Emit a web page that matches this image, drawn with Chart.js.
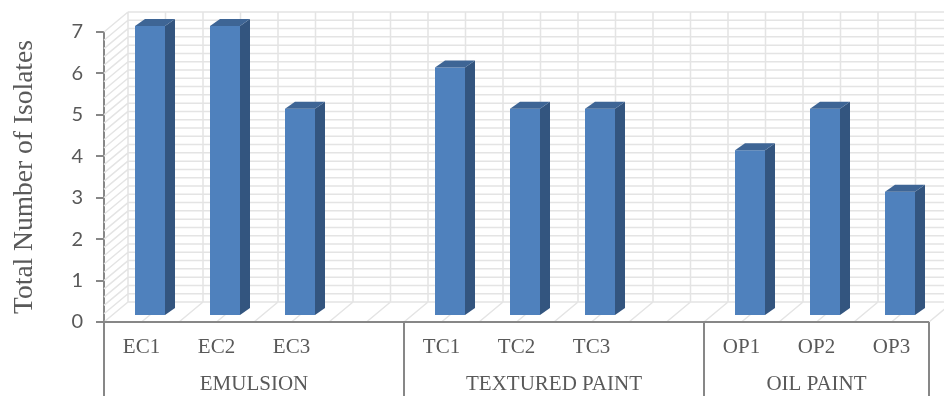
<!DOCTYPE html>
<html>
<head>
<meta charset="utf-8">
<script src="https://cdn.jsdelivr.net/npm/chart.js@4/dist/chart.umd.min.js"></script>
<style>
  html, body { margin: 0; padding: 0; background: #ffffff; }
  #wrap { width: 944px; height: 396px; position: relative; }
</style>
</head>
<body>
<div id="wrap"><canvas id="chart"></canvas></div>
<script>
// Samples (blank slots separate the three paint groups)
const categories = ['EC1', 'EC2', 'EC3', '', 'TC1', 'TC2', 'TC3', '', 'OP1', 'OP2', 'OP3'];
const isolateCounts = [7, 7, 5, null, 6, 5, 5, null, 4, 5, 3];

// Paint groups: label and the first/last category index each one covers
const groupLabels = ['EMULSION', 'TEXTURED PAINT', 'OIL PAINT'];
const groupStarts = [0, 4, 8];
const groupEnds = [3, 7, 10];

// Value axis
const yMin = 0;
const yMax = 7;
const yStep = 1;
const yMinorStep = 0.2;

const AXIS_GREY = '#878787';
const TEXT_GREY = '#595959';
const WALL_LINE = '#e4e4e4';
const SERIF = '"Liberation Serif", "Times New Roman", serif';

// Pseudo-3D geometry (pixels)
const WALL_DEPTH = { dx: 24, dy: -20 };
const BAR_SHIFT = { dx: 8.5, dy: -6 };
const BAR_DEPTH = { dx: 10, dy: -7 };

const box3d = {
  id: 'box3d',
  beforeDatasetsDraw(chart) {
    const { ctx, chartArea: a, scales: { x, y } } = chart;
    const L = a.left, R = a.right, T = a.top, B = a.bottom;
    const dx = WALL_DEPTH.dx, dy = WALL_DEPTH.dy;
    const half = (x.getPixelForValue(1) - x.getPixelForValue(0)) / 2;
    ctx.save();
    ctx.strokeStyle = WALL_LINE;
    ctx.lineWidth = 1.5;
    ctx.beginPath();
    // back wall: horizontal minor lines
    for (let v = yMin; v <= yMax + 1e-9; v += yMinorStep) {
      const py = y.getPixelForValue(v) + dy;
      ctx.moveTo(L + dx, py); ctx.lineTo(R + dx, py);
      // side wall hatch
      ctx.moveTo(L, y.getPixelForValue(v)); ctx.lineTo(L + dx, py);
    }
    // back wall verticals + floor diagonals every half category
    for (let px = L; px <= R + 0.5; px += half) {
      ctx.moveTo(px + dx, T + dy); ctx.lineTo(px + dx, B + dy);
      ctx.moveTo(px, B); ctx.lineTo(px + dx, B + dy);
    }
    ctx.moveTo(L, T); ctx.lineTo(L + dx, T + dy);
    ctx.stroke();
    ctx.restore();

    // bars sit in the middle of the box depth
    ctx.save();
    ctx.translate(BAR_SHIFT.dx, BAR_SHIFT.dy);
  },
  afterDatasetsDraw(chart) {
    const { ctx } = chart;
    const meta = chart.getDatasetMeta(0);
    meta.data.forEach((bar, i) => {
      if (isolateCounts[i] === null) return;
      const { x, y, base, width } = bar.getProps(['x', 'y', 'base', 'width'], true);
      const l = x - width / 2, r = x + width / 2;
      const ddx = BAR_DEPTH.dx, ddy = BAR_DEPTH.dy;
      // side face
      ctx.fillStyle = '#33557f';
      ctx.beginPath();
      ctx.moveTo(r, y); ctx.lineTo(r + ddx, y + ddy);
      ctx.lineTo(r + ddx, base + ddy); ctx.lineTo(r, base);
      ctx.closePath(); ctx.fill();
      // top face
      ctx.fillStyle = '#3e6595';
      ctx.beginPath();
      ctx.moveTo(l, y); ctx.lineTo(l + ddx, y + ddy);
      ctx.lineTo(r + ddx, y + ddy); ctx.lineTo(r, y);
      ctx.closePath(); ctx.fill();
    });
    ctx.restore();
  },
  afterDraw(chart) {
    const { ctx, chartArea: a, scales: { x } } = chart;
    const H = chart.height;
    const half = (x.getPixelForValue(1) - x.getPixelForValue(0)) / 2;
    ctx.save();
    ctx.strokeStyle = AXIS_GREY;
    ctx.lineWidth = 2;
    ctx.beginPath();
    ctx.moveTo(a.left - 8, a.bottom); ctx.lineTo(a.right, a.bottom);
    const edges = [];
    groupStarts.forEach((s) => edges.push(x.getPixelForValue(s) - half));
    edges.push(x.getPixelForValue(groupEnds[groupEnds.length - 1]) + half);
    edges.forEach((ex) => { ctx.moveTo(ex, a.bottom); ctx.lineTo(ex, H); });
    ctx.stroke();

    // group captions
    ctx.fillStyle = TEXT_GREY;
    ctx.font = '21px ' + SERIF;
    ctx.textAlign = 'center';
    ctx.textBaseline = 'middle';
    groupLabels.forEach((g, i) => {
      const cx = (x.getPixelForValue(groupStarts[i]) + x.getPixelForValue(groupEnds[i])) / 2;
      ctx.fillText(g, cx, 384);
    });
    ctx.restore();
  }
};

new Chart(document.getElementById('chart'), {
  type: 'bar',
  data: {
    labels: categories,
    datasets: [{
      label: 'Total Number of Isolates',
      data: isolateCounts,
      backgroundColor: '#4f81bd',
      borderWidth: 0,
      categoryPercentage: 0.4,
      barPercentage: 1,
      clip: false
    }]
  },
  options: {
    responsive: true,
    maintainAspectRatio: false,
    animation: false,
    events: [],
    layout: { padding: { left: 0, right: 15, top: 32, bottom: 0 } },
    plugins: { legend: { display: false }, tooltip: { enabled: false } },
    scales: {
      x: {
        type: 'category',
        offset: true,
        grid: { display: false, drawTicks: false },
        border: { display: false },
        ticks: {
          color: TEXT_GREY,
          font: { family: SERIF, size: 21 },
          padding: 13,
          maxRotation: 0,
          autoSkip: false
        },
        afterFit(scale) { scale.height = 74; }
      },
      y: {
        min: yMin,
        max: yMax,
        grid: {
          drawOnChartArea: false,
          drawTicks: true,
          tickLength: 8,
          color: AXIS_GREY,
          lineWidth: 2
        },
        border: { display: true, color: AXIS_GREY, width: 2 },
        ticks: {
          stepSize: yStep,
          color: TEXT_GREY,
          font: { family: 'Lato, "Open Sans", sans-serif', size: 20 },
          padding: 13
        },
        title: {
          display: true,
          text: 'Total Number of Isolates',
          color: TEXT_GREY,
          font: { family: SERIF, size: 27.5 },
          padding: { top: 8, bottom: 0 }
        },
        afterFit(scale) { scale.width = 104; }
      }
    }
  },
  plugins: [box3d]
});
</script>
</body>
</html>
